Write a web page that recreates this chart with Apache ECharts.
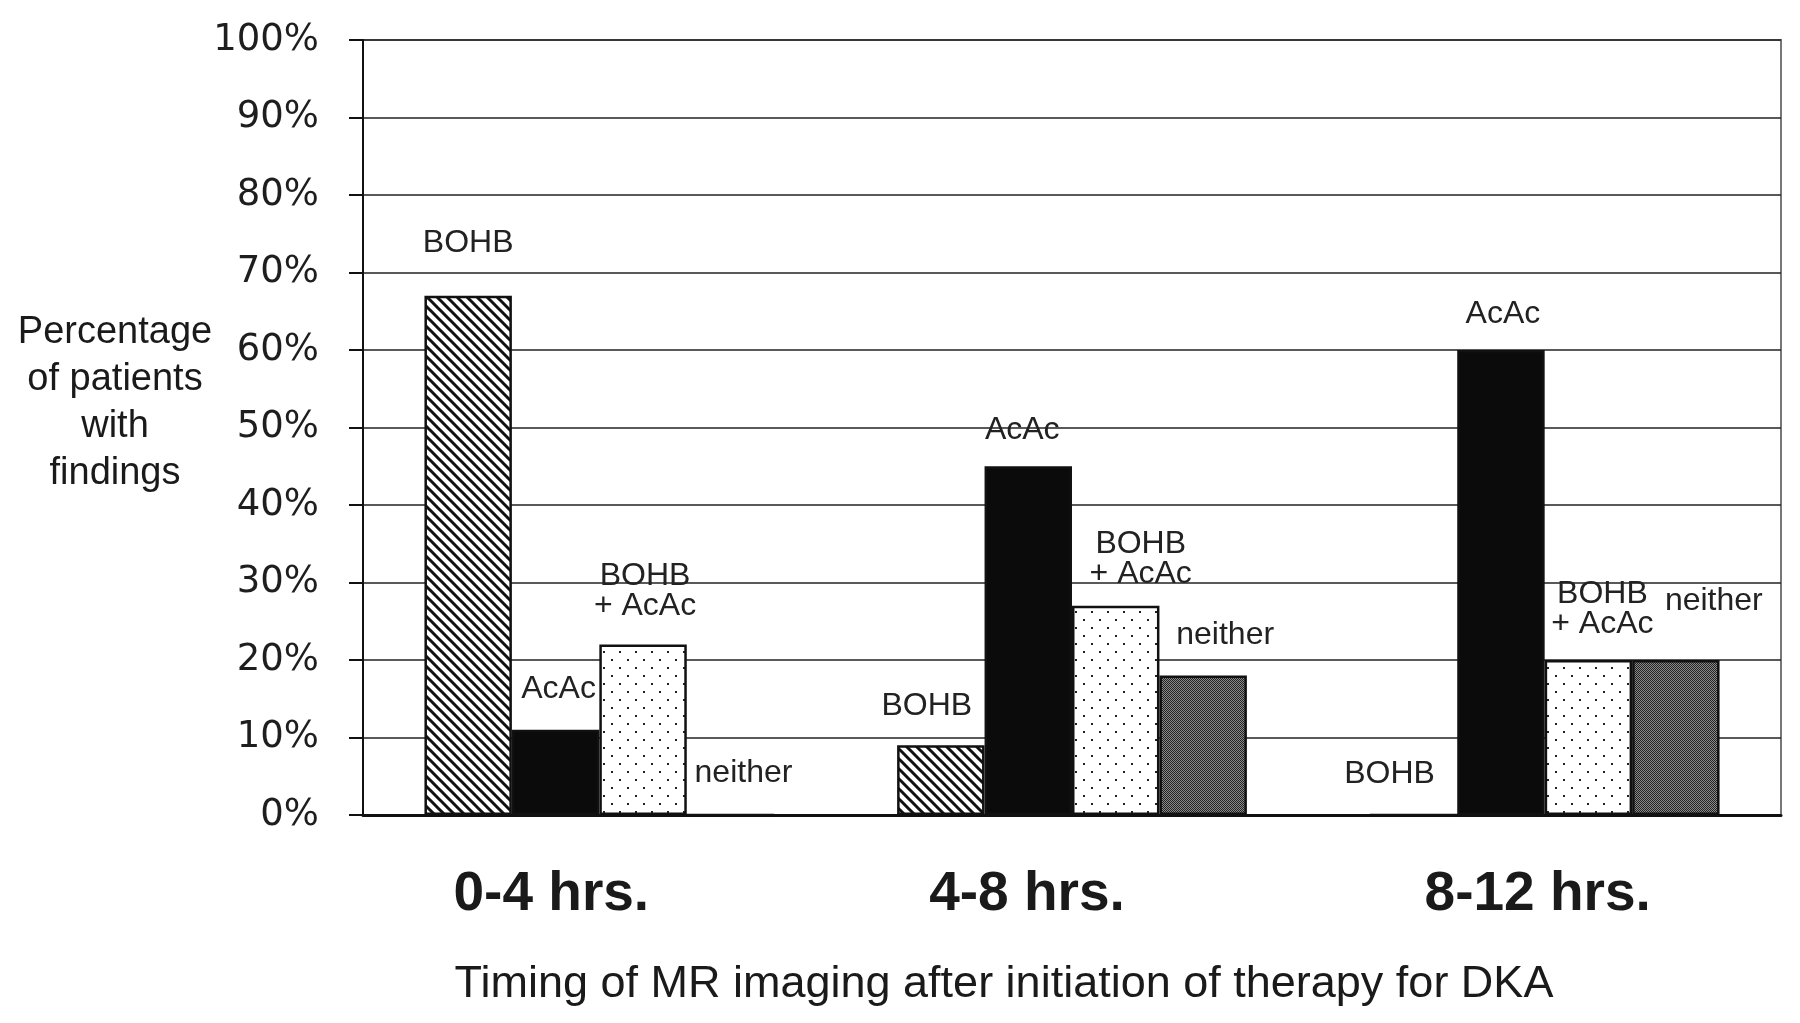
<!DOCTYPE html>
<html>
<head>
<meta charset="utf-8">
<script src="https://cdn.jsdelivr.net/npm/echarts@6/dist/echarts.min.js"></script>
<style>
html,body{margin:0;padding:0;background:#fff;}
#chart{width:1800px;height:1023px;}
</style>
</head>
<body>
<div id="chart"></div>
<script>
// ---- data ----
const categories = ['0-4 hrs.', '4-8 hrs.', '8-12 hrs.'];
const seriesNames = ['BOHB', 'AcAc', 'BOHB + AcAc', 'neither'];
const labelTexts = ['BOHB', 'AcAc', 'BOHB\n+ AcAc', 'neither'];
const bohbValues = [67, 9, 0];
const acacValues = [11, 45, 60];
const bothValues = [22, 27, 20];
const neitherValues = [0, 18, 20];
const yAxisTitle = 'Percentage\nof patients\nwith\nfindings';
const xAxisTitle = 'Timing of MR imaging after initiation of therapy for DKA';

// ---- patterns ----
function makeCanvas(w, h, draw) {
  const c = document.createElement('canvas');
  c.width = w; c.height = h;
  const ctx = c.getContext('2d');
  draw(ctx, w, h);
  return c;
}
const hatch = makeCanvas(10, 10, (ctx, w, h) => {
  ctx.fillStyle = '#fff'; ctx.fillRect(0, 0, w, h);
  ctx.strokeStyle = '#111'; ctx.lineWidth = 3;
  ctx.beginPath();
  ctx.moveTo(-2, -2); ctx.lineTo(12, 12);
  ctx.moveTo(-12, -2); ctx.lineTo(2, 12);
  ctx.moveTo(8, -2); ctx.lineTo(22, 12);
  ctx.stroke();
});
const dots = makeCanvas(16, 16, (ctx, w, h) => {
  ctx.fillStyle = '#fff'; ctx.fillRect(0, 0, w, h);
  ctx.fillStyle = '#222';
  ctx.fillRect(3, 3, 2, 2);
  ctx.fillRect(11, 11, 2, 2);
});
const halftone = makeCanvas(2, 2, (ctx, w, h) => {
  ctx.fillStyle = '#8a8a8a'; ctx.fillRect(0, 0, w, h);
  ctx.fillStyle = '#222';
  ctx.fillRect(0, 0, 1, 1);
  ctx.fillRect(1, 1, 1, 1);
});

const fills = [
  { image: hatch, repeat: 'repeat' },
  '#0b0b0b',
  { image: dots, repeat: 'repeat' },
  { image: halftone, repeat: 'repeat' }
];

// label offsets per series, per category [dx, dy]
const labelOffsets = [
  [[0, -15], [-14, -1], [-24, -2]],
  [[3, -3], [-6, 2], [2, 2]],
  [[2, 0], [25, 6], [14, 2]],
  [[13, -3], [22, -2], [38, -21]]
];

const valueSets = [bohbValues, acacValues, bothValues, neitherValues];

const series = valueSets.map((vals, si) => ({
  name: seriesNames[si],
  type: 'bar',
  barGap: '0%',
  barCategoryGap: '26%',
  itemStyle: {
    color: fills[si],
    borderColor: '#111',
    borderWidth: 2.5
  },
  label: {
    show: true,
    position: 'top',
    distance: 23,
    formatter: () => labelTexts[si],
    fontFamily: 'Liberation Sans, Arial, sans-serif',
    fontSize: 32,
    lineHeight: 30,
    color: '#222',
    align: 'center'
  },
  data: vals.map((v, ci) => ({
    value: v,
    label: { offset: labelOffsets[si][ci] }
  })),
  z: 3
}));

// category label horizontal shifts (right padding shifts centred text left)
const catPad = [96, 90, 14];

const chart = echarts.init(document.getElementById('chart'), null, { renderer: 'canvas' });
chart.setOption({
  animation: false,
  backgroundColor: '#fff',
  grid: {
    left: 363, right: 19, top: 40, bottom: 208,
    show: true, borderColor: '#777', borderWidth: 2, backgroundColor: 'transparent'
  },
  xAxis: {
    type: 'category',
    data: categories.map((c, i) => ({
      value: c,
      textStyle: { padding: [0, catPad[i], 0, 0] }
    })),
    axisLine: { lineStyle: { color: '#111', width: 3 } },
    axisTick: { show: false },
    axisLabel: {
      margin: 52,
      fontFamily: 'Liberation Sans, Arial, sans-serif',
      fontWeight: 'bold',
      fontSize: 55,
      color: '#1a1a1a'
    }
  },
  yAxis: {
    type: 'value',
    min: 0, max: 100, interval: 10,
    axisLine: { show: true, lineStyle: { color: '#111', width: 2 } },
    axisTick: { show: true, inside: false, length: 14, lineStyle: { color: '#111', width: 2 } },
    splitLine: { lineStyle: { color: '#222', width: 1.6 } },
    axisLabel: {
      formatter: '{value}%',
      margin: 44,
      fontFamily: 'DejaVu Sans, sans-serif',
      fontSize: 37,
      color: '#1e1e1e'
    }
  },
  graphic: [
    {
      type: 'text',
      x: 115, y: 403,
      style: {
        text: yAxisTitle,
        font: '38px "Liberation Sans", Arial, sans-serif',
        fill: '#1a1a1a',
        textAlign: 'center',
        textVerticalAlign: 'middle',
        lineHeight: 47
      }
    },
    {
      type: 'text',
      x: 1004, y: 985,
      style: {
        text: xAxisTitle,
        font: '45px "Liberation Sans", Arial, sans-serif',
        fill: '#1a1a1a',
        textAlign: 'center',
        textVerticalAlign: 'middle'
      }
    }
  ],
  series: series
});
</script>
</body>
</html>
